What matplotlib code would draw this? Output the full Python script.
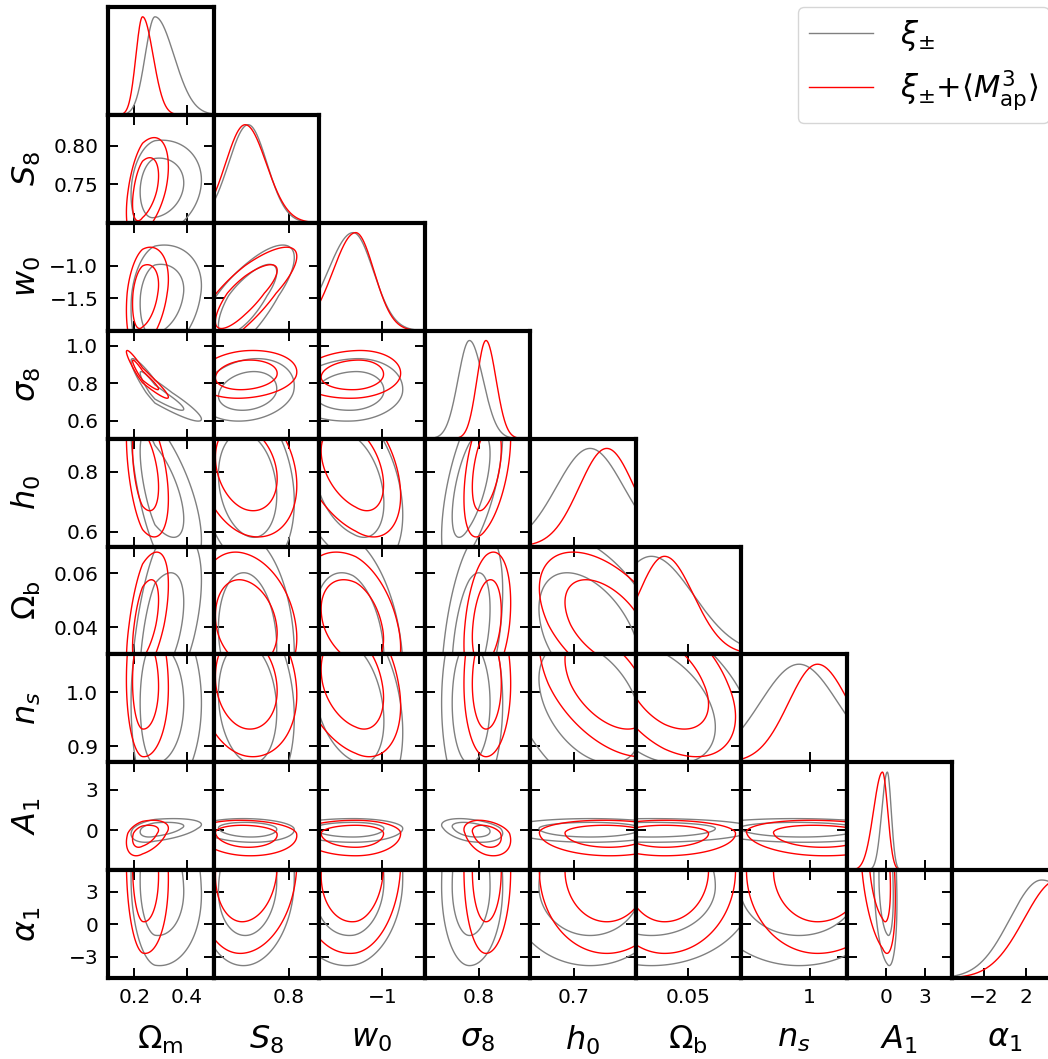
import numpy as np
import matplotlib
matplotlib.use("Agg")
import matplotlib.pyplot as plt
from matplotlib.lines import Line2D

# ---- parameters -----------------------------------------------------------
labels = [r'$\Omega_{\rm m}$', r'$S_8$', r'$w_0$', r'$\sigma_8$', r'$h_0$',
          r'$\Omega_{\rm b}$', r'$n_s$', r'$A_1$', r'$\alpha_1$']
lo = [0.10, 0.700, -2.000, 0.505, 0.550, 0.030, 0.870, -2.99, -5.0]
hi = [0.50, 0.840, -0.333, 1.080, 0.910, 0.070, 1.070, 5.05, 5.0]

xticks = [[0.2, 0.4], [0.8], [-1.0], [0.8], [0.7], [0.05], [1.0], [0, 3], [-2, 2]]
xticklabels = [['0.2', '0.4'], ['0.8'], ['\u22121'], ['0.8'], ['0.7'], ['0.05'],
               ['1'], ['0', '3'], ['\u22122', '2']]
yticks = [[], [0.75, 0.80], [-1.5, -1.0], [0.6, 0.8, 1.0], [0.6, 0.8], [0.04, 0.06],
          [0.9, 1.0], [0, 3], [-3, 0, 3]]
yticklabels = [[], ['0.75', '0.80'], ['\u22121.5', '\u22121.0'], ['0.6', '0.8', '1.0'],
               ['0.6', '0.8'], ['0.04', '0.06'], ['0.9', '1.0'], ['0', '3'],
               ['\u22123', '0', '3']]

# ---- posterior summaries (mode, lower width, upper width) ------------------
mode_xi = [0.278, 0.746, -1.46, 0.750, 0.755, 0.036, 0.980, 0.12, 3.5]
sl_xi = [0.037, 0.026, 0.40, 0.062, 0.115, 0.015, 0.074, 0.42, 3.0]
sr_xi = [0.072, 0.025, 0.32, 0.074, 0.115, 0.016, 0.074, 0.30, 4.0]

mode_map = [0.231, 0.742, -1.42, 0.840, 0.812, 0.041, 1.015, -0.25, 5.0]
sl_map = [0.025, 0.026, 0.36, 0.049, 0.094, 0.010, 0.055, 0.68, 3.15]
sr_map = [0.040, 0.028, 0.29, 0.055, 0.094, 0.011, 0.060, 0.40, 3.0]

# lower-triangle correlation coefficients, row i holds rho(i, 0..i-1)
rho_xi = [[],
          [0.15],
          [0.20, 0.75],
          [-0.93, 0.20, 0.10],
          [-0.65, -0.20, -0.35, 0.60],
          [0.55, -0.15, -0.30, 0.45, -0.45],
          [0.00, -0.15, -0.30, 0.00, -0.40, -0.40],
          [0.40, -0.10, 0.00, -0.35, 0.00, 0.00, -0.05],
          [-0.10, 0.10, 0.10, 0.00, 0.00, 0.00, 0.00, -0.20]]
rho_map = [[],
           [0.45],
           [0.30, 0.80],
           [-0.95, 0.15, 0.10],
           [-0.45, -0.25, -0.40, 0.45],
           [0.55, -0.20, -0.35, 0.30, -0.50],
           [-0.05, -0.15, -0.30, 0.00, -0.50, -0.45],
           [0.40, -0.10, 0.00, -0.30, -0.05, 0.00, -0.10],
           [-0.10, 0.10, 0.10, 0.00, 0.00, 0.00, 0.00, -0.35]]

chains = [
    dict(mode=mode_xi, sl=sl_xi, sr=sr_xi, rho=rho_xi, color='gray',
         label=r'$\xi_{\pm}$'),
    dict(mode=mode_map, sl=sl_map, sr=sr_map, rho=rho_map, color='red',
         label=r'$\xi_{\pm}$+$\langle M_{\rm ap}^3\rangle$'),
]

levels = [2.30, 5.99]   # 68% and 95% of a 2D Gaussian


def scaled(x, m, sl, sr):
    return np.where(x < m, (x - m) / sl, (x - m) / sr)


# ---- layout ---------------------------------------------------------------
W, H = 1048, 1059
fig = plt.figure(figsize=(W / 100, H / 100), dpi=100)
left0, top0, colw, rowh = 108.0, 7.0, 105.5, 107.9
n = len(labels)
lw = 1.0

for r in range(n):
    for c in range(r + 1):
        rect = [(left0 + colw * c) / W, 1 - (top0 + rowh * (r + 1)) / H,
                colw / W, rowh / H]
        ax = fig.add_axes(rect)
        for s in ax.spines.values():
            s.set_linewidth(3.0)
        ax.tick_params(direction='in', length=7, width=1.4, labelsize=14.5,
                       pad=7, top=True, right=True)
        ax.set_xlim(lo[c], hi[c])
        ax.set_xticks(xticks[c])
        ax.set_xticklabels(xticklabels[c])

        if r == c:
            xs = np.linspace(lo[c], hi[c], 500)
            for ch in chains:
                u = scaled(xs, ch['mode'][c], ch['sl'][c], ch['sr'][c])
                p = np.exp(-0.5 * u ** 2)
                ax.plot(xs, p / p.max(), color=ch['color'], lw=lw)
            ax.set_ylim(0, 1.1)
            ax.set_yticks([])
            ax.tick_params(top=False, right=False, left=False)
        else:
            ax.set_ylim(lo[r], hi[r])
            ax.set_yticks(yticks[r])
            ax.set_yticklabels(yticklabels[r])
            gx = np.linspace(lo[c], hi[c], 300)
            gy = np.linspace(lo[r], hi[r], 300)
            X, Y = np.meshgrid(gx, gy)
            for ch in chains:
                ux = scaled(X, ch['mode'][c], ch['sl'][c], ch['sr'][c])
                uy = scaled(Y, ch['mode'][r], ch['sl'][r], ch['sr'][r])
                rho = ch['rho'][r][c]
                Q = (ux ** 2 - 2 * rho * ux * uy + uy ** 2) / (1 - rho ** 2)
                ax.contour(X, Y, Q, levels=levels, colors=[ch['color']],
                           linewidths=lw)

        if r == n - 1:
            ax.set_xlabel(labels[c], fontsize=23)
            ax.xaxis.set_label_coords(0.5, -0.42)
        else:
            ax.tick_params(labelbottom=False)
        if c == 0 and r > 0:
            ax.set_ylabel(labels[r], fontsize=23)
            ax.yaxis.set_label_coords(-0.62, 0.5)
        else:
            ax.tick_params(labelleft=False)

handles = [Line2D([], [], color=ch['color'], lw=lw) for ch in chains]
fig.legend(handles, [ch['label'] for ch in chains], loc='upper left',
           bbox_to_anchor=(798 / W, 1 - 7 / H), borderaxespad=0, fontsize=22,
           handlelength=2.1, handletextpad=0.9, labelspacing=0.5,
           borderpad=0.35)

fig.savefig('out.png', dpi=100)
